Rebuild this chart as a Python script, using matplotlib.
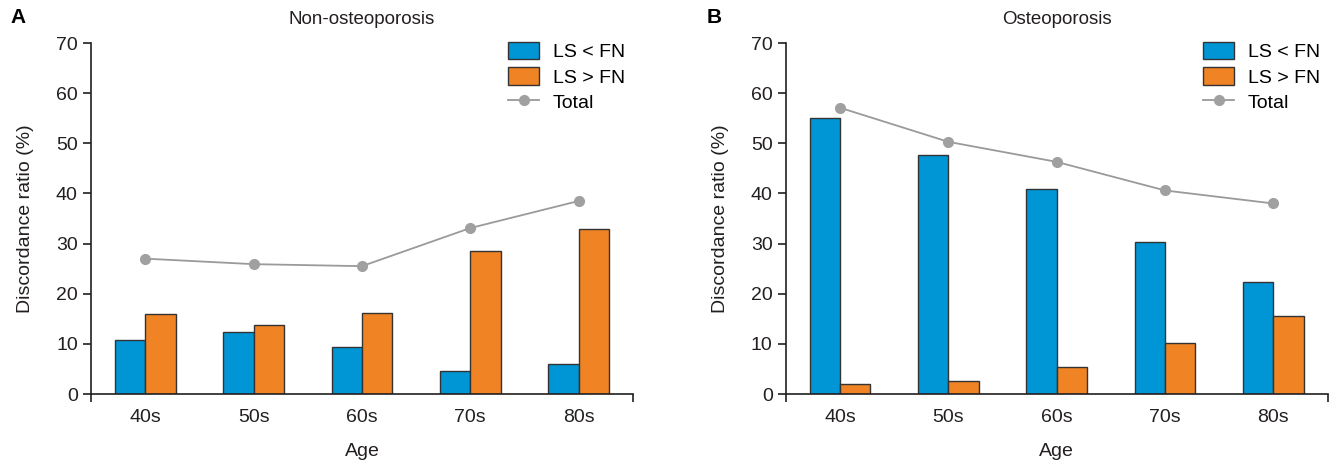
import numpy as np
import matplotlib.pyplot as plt

plt.rcParams['font.family'] = ['Liberation Sans Narrow', 'Liberation Sans', 'DejaVu Sans']

# 데이터
ages = ['40s', '50s', '60s', '70s', '80s']
non_ls_lt_fn = [10.8, 12.4, 9.4, 4.6, 5.9]
non_ls_gt_fn = [16.0, 13.7, 16.1, 28.6, 33.0]
non_total = [27.0, 25.9, 25.5, 33.1, 38.5]
ost_ls_lt_fn = [55.0, 47.7, 40.9, 30.3, 22.3]
ost_ls_gt_fn = [2.0, 2.5, 5.3, 10.1, 15.5]
ost_total = [57.1, 50.3, 46.3, 40.6, 38.0]

blue = '#0096d6'
orange = '#f08323'
gray = '#9a9a9a'
ink = '#231f20'

fig = plt.figure(figsize=(13.41, 4.63), dpi=100)
ax1 = fig.add_axes([0.0679, 0.149, 0.404, 0.758])
ax2 = fig.add_axes([0.586, 0.149, 0.404, 0.758])

panels = [
    (ax1, 'Non-osteoporosis', non_ls_lt_fn, non_ls_gt_fn, non_total),
    (ax2, 'Osteoporosis', ost_ls_lt_fn, ost_ls_gt_fn, ost_total),
]

x = np.arange(len(ages))
w = 0.28
fs = 14
for ax, title, lt, gt, tot in panels:
    b1 = ax.bar(x - w / 2, lt, w, color=blue, edgecolor='#333333', linewidth=1, label='LS < FN')
    b2 = ax.bar(x + w / 2, gt, w, color=orange, edgecolor='#333333', linewidth=1, label='LS > FN')
    ln, = ax.plot(x, tot, color=gray, linewidth=1.3, marker='o', markersize=7,
                  markerfacecolor='#a0a0a0', markeredgecolor='#a0a0a0', label='Total')

    ax.set_xlim(-0.5, 4.5)
    ax.set_ylim(0, 70)
    ax.set_yticks(range(0, 71, 10))
    ax.set_xticks(x)
    ax.set_xticklabels(ages)
    ax.set_xticks([-0.5, 4.5], minor=True)
    ax.tick_params(axis='x', which='major', length=0, pad=11, labelsize=fs, colors=ink)
    ax.tick_params(axis='x', which='minor', length=6, width=1.2, direction='out', color=ink)
    ax.tick_params(axis='y', length=6, width=1.2, direction='out', labelsize=fs, colors=ink)
    for s in ['top', 'right']:
        ax.spines[s].set_visible(False)
    for s in ['left', 'bottom']:
        ax.spines[s].set_linewidth(1.2)
        ax.spines[s].set_color(ink)

    ax.set_xlabel('Age', fontsize=fs, labelpad=12, color=ink)
    ax.set_ylabel('Discordance ratio (%)', fontsize=fs, labelpad=16, color=ink)
    ax.set_title(title, fontsize=13.5, pad=14, color=ink)

    ax.legend([b1, b2, ln], ['LS < FN', 'LS > FN', 'Total'], loc='upper right',
              bbox_to_anchor=(1.0, 1.025), frameon=False,
              fontsize=fs, handlelength=1.6, handleheight=1.0,
              labelspacing=0.3, handletextpad=0.7, borderaxespad=0.0)

fig.text(0.008, 0.963, 'A', fontsize=15, fontweight='bold', va='center')
fig.text(0.527, 0.963, 'B', fontsize=15, fontweight='bold', va='center')

fig.savefig('out.png', dpi=100)
